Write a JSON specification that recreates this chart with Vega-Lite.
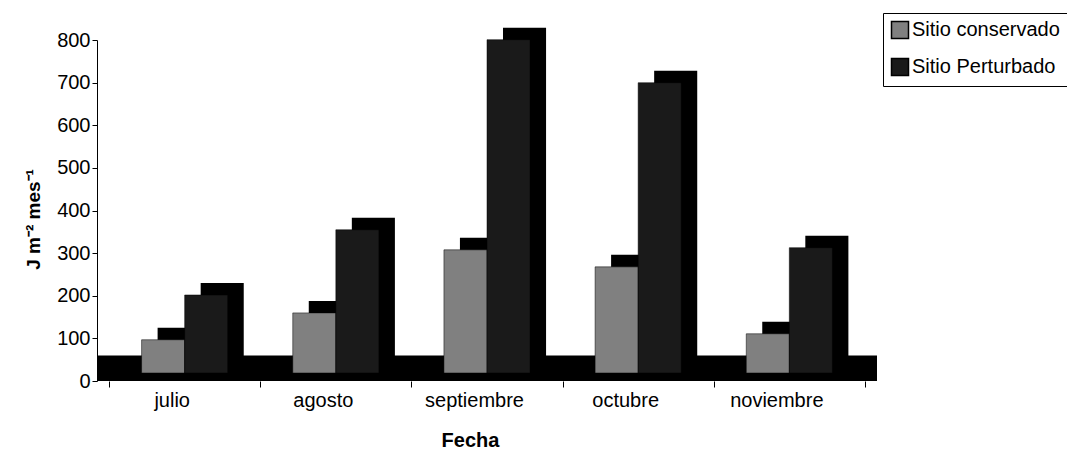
{
  "$schema": "https://vega.github.io/schema/vega-lite/v6.json",
  "autosize": {"type": "none"},
  "width": 780,
  "height": 341,
  "padding": {"left": 97, "top": 40, "right": 190, "bottom": 75},
  "background": "white",
  "config": {
    "view": {"stroke": null},
    "font": "Liberation Sans",
    "axis": {"labelColor": "black", "titleColor": "black", "domainColor": "black", "tickColor": "black", "grid": false}
  },
  "datasets": {
    "energia": [
      {"mes": "julio", "sitio": "Sitio conservado", "valor": 78},
      {"mes": "julio", "sitio": "Sitio Perturbado", "valor": 183},
      {"mes": "agosto", "sitio": "Sitio conservado", "valor": 141},
      {"mes": "agosto", "sitio": "Sitio Perturbado", "valor": 336},
      {"mes": "septiembre", "sitio": "Sitio conservado", "valor": 289},
      {"mes": "septiembre", "sitio": "Sitio Perturbado", "valor": 782},
      {"mes": "octubre", "sitio": "Sitio conservado", "valor": 249},
      {"mes": "octubre", "sitio": "Sitio Perturbado", "valor": 681},
      {"mes": "noviembre", "sitio": "Sitio conservado", "valor": 92},
      {"mes": "noviembre", "sitio": "Sitio Perturbado", "valor": 294}
    ]
  },
  "layer": [
    {
      "description": "Black floor band under the columns",
      "data": {"values": [{}]},
      "mark": {"type": "rect", "color": "black"},
      "encoding": {
        "x": {"value": 0},
        "x2": {"value": "width"},
        "y": {"datum": 0, "type": "quantitative", "scale": {"domain": [0, 800]}},
        "y2": {"datum": 60}
      }
    },
    {
      "description": "Depth block behind each column (side and top faces)",
      "data": {"name": "energia"},
      "mark": {"type": "bar", "color": "black", "yOffset": -20},
      "encoding": {
        "x": {"field": "mes", "type": "nominal", "sort": ["julio", "agosto", "septiembre", "octubre", "noviembre"], "scale": {"paddingInner": 0, "paddingOuter": 0.08}},
        "xOffset": {"field": "sitio", "type": "nominal", "sort": ["Sitio conservado", "Sitio Perturbado"], "scale": {"paddingInner": 0, "paddingOuter": 0.755, "align": 0.746}},
        "y": {"field": "valor", "type": "quantitative"}
      }
    },
    {
      "description": "Front faces of the columns",
      "data": {"name": "energia"},
      "mark": {"type": "bar", "yOffset": -8, "stroke": "black", "strokeWidth": 0.5},
      "encoding": {
        "x": {
          "field": "mes", "type": "nominal",
          "sort": ["julio", "agosto", "septiembre", "octubre", "noviembre"],
          "axis": {
            "title": "Fecha", "labelAngle": 0, "labelAlign": "center", "labelFontSize": 20, "labelOffset": -13,
            "domain": false, "tickBand": "extent", "tickSize": 6, "labelPadding": 13,
            "titleFontSize": 20, "titleFontWeight": "bold", "titleX": 373, "titleY": 59, "titleBaseline": "middle", "titleAlign": "center"
          }
        },
        "xOffset": {"field": "sitio", "type": "nominal", "sort": ["Sitio conservado", "Sitio Perturbado"], "scale": {"paddingInner": 0, "paddingOuter": 0.755, "align": 0.5}},
        "y": {
          "field": "valor", "type": "quantitative",
          "axis": {
            "title": "J m⁻² mes⁻¹", "values": [0, 100, 200, 300, 400, 500, 600, 700, 800],
            "labelFontSize": 20, "tickSize": 5, "labelPadding": 2,
            "titleFontSize": 19, "titleFontWeight": "bold", "titleX": -64, "titleY": 179,
            "titleAngle": 270, "titleBaseline": "middle", "titleAlign": "center"
          }
        },
        "color": {
          "field": "sitio", "type": "nominal",
          "scale": {"domain": ["Sitio conservado", "Sitio Perturbado"], "range": ["#808080", "#1a1a1a"]},
          "legend": {
            "title": null, "orient": "none", "legendX": 786, "legendY": -27,
            "symbolType": "square", "symbolSize": 289, "symbolStrokeColor": "black", "symbolStrokeWidth": 1.5, "symbolOpacity": 1,
            "labelFontSize": 20, "labelColor": "black", "labelOffset": 2, "rowPadding": 13,
            "padding": 7, "strokeColor": "black", "fillColor": "white"
          }
        }
      }
    }
  ],
  "resolve": {"scale": {"xOffset": "independent"}}
}
